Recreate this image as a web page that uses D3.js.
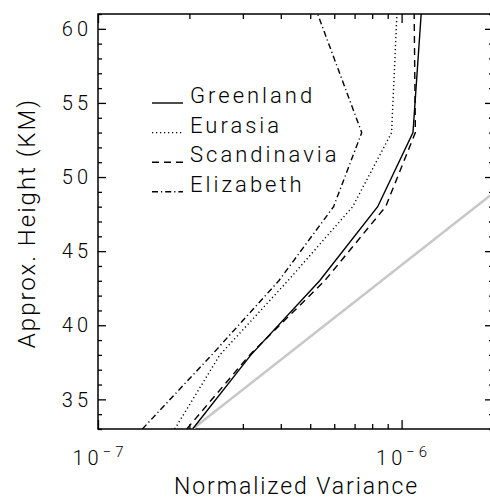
<!DOCTYPE html>
<html>
<head>
<meta charset="utf-8">
<script src="https://cdn.jsdelivr.net/npm/d3@7"></script>
<style>
    body { margin: 0; background: #fff; }
    svg text { font-family: Roboto, "DejaVu Sans", sans-serif; font-weight: 300; fill: #000; }
</style>
</head>
<body>
<div id="chart"></div>
<script>
const heights = [33, 38, 43, 48, 53, 61];
const greenland = [2.05e-7, 3.19e-7, 5.37e-7, 8.34e-7, 1.09e-6, 1.16e-6];
const eurasia = [1.79e-7, 2.52e-7, 4.22e-7, 6.90e-7, 9.27e-7, 9.65e-7];
const scandinavia = [1.96e-7, 3.16e-7, 5.58e-7, 8.86e-7, 1.11e-6, 1.10e-6];
const elizabeth = [1.40e-7, 2.37e-7, 3.94e-7, 5.97e-7, 7.39e-7, 5.29e-7];
const reference_heights = [33, 48.9];
const reference_values = [2.05e-7, 2.0e-6];
const series_names = ["Greenland", "Eurasia", "Scandinavia", "Elizabeth"];
const y_ticks = [35, 40, 45, 50, 55, 60];
const x_ticks = [1e-7, 1e-6];
const x_tick_exps = ["\u22127", "\u22126"];

let svg_width = 490, svg_height = 500,
    margin = {top: 14, right: -3, bottom: 71, left: 98},
    width = svg_width - margin.left - margin.right,
    height = svg_height - margin.top - margin.bottom;

let x = d3.scaleLog().domain([1e-7, 2e-6]).range([0, width]);
let y = d3.scaleLinear().domain([33, 61]).range([height, 0]);

let svg = d3.select("#chart").append("svg")
        .attr("width", svg_width)
        .attr("height", svg_height)
    .append("g")
        .attr("transform", "translate(" + margin.left + ", " + margin.top + ")");

svg.append("defs").append("clipPath")
        .attr("id", "plot_clip")
    .append("rect")
        .attr("width", width)
        .attr("height", height);

// minor ticks on log axis: 1..9 per decade
let x_minor = [];
for (let e = -7; e <= -6; e++)
    for (let m = 1; m <= 9; m++) {
        let v = m * Math.pow(10, e);
        if (v <= 2e-6 && x_ticks.indexOf(v) < 0) x_minor.push(v);
    }
let y_minor = d3.range(33, 62).filter(v => v % 5 != 0);

const tick_style = g => {
    g.select(".domain").remove();
    g.selectAll("line").attr("stroke", "#000").attr("stroke-width", 1.3);
    g.selectAll("text").remove();
};

// bottom / top major and minor ticks
svg.append("g").attr("transform", "translate(0," + height + ")")
    .call(d3.axisTop(x).tickValues(x_ticks).tickSize(9)).call(tick_style);
svg.append("g").attr("transform", "translate(0," + height + ")")
    .call(d3.axisTop(x).tickValues(x_minor).tickSize(5)).call(tick_style);
svg.append("g")
    .call(d3.axisBottom(x).tickValues(x_ticks).tickSize(9)).call(tick_style);
svg.append("g")
    .call(d3.axisBottom(x).tickValues(x_minor).tickSize(5)).call(tick_style);

// left / right ticks
svg.append("g").call(d3.axisRight(y).tickValues(y_ticks).tickSize(8)).call(tick_style);
svg.append("g").call(d3.axisRight(y).tickValues(y_minor).tickSize(4)).call(tick_style);
svg.append("g").attr("transform", "translate(" + width + ",0)")
    .call(d3.axisLeft(y).tickValues(y_ticks).tickSize(8)).call(tick_style);
svg.append("g").attr("transform", "translate(" + width + ",0)")
    .call(d3.axisLeft(y).tickValues(y_minor).tickSize(4)).call(tick_style);

svg.append("rect")
    .attr("width", width)
    .attr("height", height)
    .attr("fill", "none")
    .attr("stroke", "#000")
    .attr("stroke-width", 1.5);

// tick labels
svg.selectAll(".ylab")
    .data(y_ticks)
    .enter().append("text")
    .attr("class", "ylab")
    .attr("x", -6)
    .attr("y", d => y(d))
    .attr("dy", "0.36em")
    .attr("text-anchor", "end")
    .attr("font-size", 20)
    .attr("letter-spacing", 4)
    .text(d => d);

let x_labels = svg.selectAll(".xlab")
    .data(x_ticks)
    .enter().append("text")
    .attr("class", "xlab")
    .attr("x", d => x(d) + 2)
    .attr("y", height + 36)
    .attr("text-anchor", "middle")
    .attr("font-size", 20)
    .attr("letter-spacing", 4);
x_labels.append("tspan").text("10");
x_labels.append("tspan")
    .attr("dy", -8)
    .attr("font-size", 15)
    .text((d, i) => x_tick_exps[i]);

// axis titles
svg.append("text")
    .attr("x", width / 2 + 1)
    .attr("y", height + 65)
    .attr("text-anchor", "middle")
    .attr("font-size", 23)
    .attr("letter-spacing", 1.9)
    .text("Normalized Variance");

svg.append("text")
    .attr("transform", "translate(-63," + 209 + ") rotate(-90)")
    .attr("text-anchor", "middle")
    .attr("font-size", 24)
    .attr("letter-spacing", 2)
    .text("Approx. Height (KM)");

// data lines
let dash_styles = [null, "1.2,2.8", "7,5", "6,3,1.2,3"];
let series = [greenland, eurasia, scandinavia, elizabeth];

let plot_area = svg.append("g").attr("clip-path", "url(#plot_clip)");

let line = d3.line()
    .x(d => x(d[0]))
    .y(d => y(d[1]));

plot_area.append("path")
    .datum(reference_values.map((v, i) => [v, reference_heights[i]]))
    .attr("d", line)
    .attr("fill", "none")
    .attr("stroke", "#c8c8c8")
    .attr("stroke-width", 2.5);

series.forEach((vals, i) => {
    plot_area.append("path")
        .datum(vals.map((v, j) => [v, heights[j]]))
        .attr("d", line)
        .attr("fill", "none")
        .attr("stroke", "#000")
        .attr("stroke-width", 1.4)
        .attr("stroke-dasharray", dash_styles[i]);
});

// legend
let legend = svg.append("g").attr("transform", "translate(54, 89)");
series_names.forEach((name, i) => {
    legend.append("line")
        .attr("x1", 0).attr("x2", 31)
        .attr("y1", i * 29.6).attr("y2", i * 29.6)
        .attr("stroke", "#000")
        .attr("stroke-width", 1.4)
        .attr("stroke-dasharray", dash_styles[i]);
    legend.append("text")
        .attr("x", 38)
        .attr("y", i * 29.6)
        .attr("font-size", 22)
        .attr("letter-spacing", 3)
        .text(name);
});
</script>
</body>
</html>
